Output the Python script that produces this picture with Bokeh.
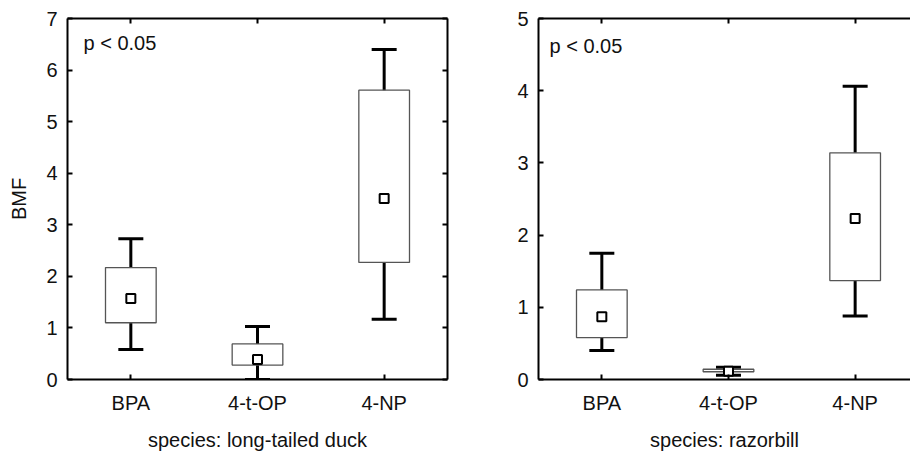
from bokeh.plotting import figure
from bokeh.models import Range1d, FixedTicker, LinearAxis, Label
from bokeh.layouts import row
from bokeh.embed import file_html
from bokeh.resources import INLINE

categories = ["BPA", "4-t-OP", "4-NP"]

# long-tailed duck
duck_whisker_low = [0.58, 0.00, 1.17]
duck_box_low = [1.10, 0.28, 2.27]
duck_mean = [1.57, 0.39, 3.51]
duck_box_high = [2.17, 0.69, 5.61]
duck_whisker_high = [2.73, 1.03, 6.40]
duck_yticks = [0, 1, 2, 3, 4, 5, 6, 7]

# razorbill
razor_whisker_low = [0.40, 0.06, 0.88]
razor_box_low = [0.58, 0.107, 1.37]
razor_mean = [0.87, 0.115, 2.23]
razor_box_high = [1.24, 0.142, 3.14]
razor_whisker_high = [1.75, 0.17, 4.06]
razor_yticks = [0, 1, 2, 3, 4, 5]

FONT = "Liberation Sans"
FS = "20px"
TXT = "#111111"


def style_axis(ax, ticker, show_labels=True):
    ax.ticker = ticker
    ax.major_tick_in = 5
    ax.major_tick_out = 0
    ax.minor_tick_in = 0
    ax.minor_tick_out = 0
    ax.axis_line_width = 2
    ax.axis_line_color = "black"
    ax.major_tick_line_width = 2
    ax.major_tick_line_color = "black"
    ax.major_label_text_font = FONT
    ax.major_label_text_color = TXT
    ax.axis_label_text_font = FONT
    ax.axis_label_text_font_style = "normal"
    ax.axis_label_text_color = TXT
    ax.axis_label_text_font_size = FS
    if show_labels:
        ax.major_label_text_font_size = FS
    else:
        ax.major_label_overrides = {t: "" for t in ticker.ticks}
        ax.major_label_text_font_size = "1px"
        ax.major_label_standoff = 0


def panel(width, border_left, border_right, x_end, y_max, yticks,
          wlow, blow, mean, bhigh, whigh, xlabel, ylabel, plabel_x, plabel_y,
          right_axis=True):
    p = figure(width=width, height=455, x_range=Range1d(0, x_end),
               y_range=Range1d(0, y_max), output_backend="svg",
               toolbar_location=None, min_border_left=border_left,
               min_border_right=border_right, min_border_top=18,
               min_border_bottom=76)
    p.outline_line_color = None
    p.xgrid.visible = False
    p.ygrid.visible = False
    p.background_fill_color = "white"
    p.border_fill_color = "white"

    xs = [i + 0.5 for i in range(len(categories))]
    xticker = FixedTicker(ticks=xs)
    yticker = FixedTicker(ticks=yticks)

    xa = p.xaxis[0]
    style_axis(xa, xticker)
    xa.major_label_overrides = {x: c for x, c in zip(xs, categories)}
    xa.major_label_standoff = 12
    xa.axis_label = xlabel
    xa.axis_label_standoff = 12

    ya = p.yaxis[0]
    style_axis(ya, yticker)
    ya.major_label_standoff = 10
    if ylabel:
        ya.axis_label = ylabel
        ya.axis_label_standoff = 13

    top = LinearAxis()
    style_axis(top, xticker, show_labels=False)
    p.add_layout(top, "above")
    if right_axis:
        rt = LinearAxis()
        style_axis(rt, yticker, show_labels=False)
        p.add_layout(rt, "right")

    # whiskers
    p.segment(x0=xs, y0=wlow, x1=xs, y1=whigh, line_color="black", line_width=3)
    p.scatter(x=xs, y=wlow, marker="dash", size=25, line_color="black", line_width=3)
    p.scatter(x=xs, y=whigh, marker="dash", size=25, line_color="black", line_width=3)
    # boxes
    p.vbar(x=xs, width=0.4, bottom=blow, top=bhigh, fill_color="white",
           line_color="#555555", line_width=1.3)
    # means
    p.scatter(x=xs, y=mean, marker="square", size=9, fill_color="white",
              line_color="black", line_width=2)

    p.add_layout(Label(x=plabel_x, y=plabel_y, text="p < 0.05", text_font=FONT,
                       text_font_size=FS, text_color=TXT, text_baseline="alphabetic"))
    return p


p1 = panel(470, 67, 23, 3, 7, duck_yticks, duck_whisker_low, duck_box_low, duck_mean,
           duck_box_high, duck_whisker_high, "species: long-tailed duck", "BMF",
           0.126, 6.52)
p2 = panel(440, 68, 0, 2.937, 5, razor_yticks, razor_whisker_low, razor_box_low,
           razor_mean, razor_box_high, razor_whisker_high, "species: razorbill", None,
           0.087, 4.62, right_axis=False)

layout = row(p1, p2)
open("out.html", "w").write(file_html(layout, INLINE))
